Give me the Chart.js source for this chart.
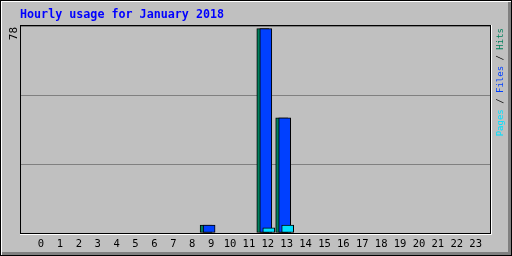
<!DOCTYPE html>
<html lang="en">
<head>
    <meta charset="UTF-8">
    <title>Hourly usage for January 2018</title>
    <script src="https://cdn.jsdelivr.net/npm/chart.js"></script>
    <style>
        html, body {
            margin: 0;
            padding: 0;
            background: #c0c0c0;
        }
        #wrap {
            width: 512px;
            height: 256px;
        }
    </style>
</head>
<body>
    <div id="wrap"><canvas id="hourlyChart" width="512" height="256"></canvas></div>

    <script>
        const chartTitle = 'Hourly usage for January 2018';
        const hourLabels = ['0', '1', '2', '3', '4', '5', '6', '7', '8', '9', '10', '11',
                            '12', '13', '14', '15', '16', '17', '18', '19', '20', '21', '22', '23'];
        const hits  = [0, 0, 0, 0, 0, 0, 0, 0, 0, 3, 0, 0, 78, 44, 0, 0, 0, 0, 0, 0, 0, 0, 0, 0];
        const files = [0, 0, 0, 0, 0, 0, 0, 0, 0, 3, 0, 0, 78, 44, 0, 0, 0, 0, 0, 0, 0, 0, 0, 0];
        const pages = [0, 0, 0, 0, 0, 0, 0, 0, 0, 0, 0, 0, 2, 3, 0, 0, 0, 0, 0, 0, 0, 0, 0, 0];

        const COLOR_HITS = '#00805c';
        const COLOR_FILES = '#0040ff';
        const COLOR_PAGES = '#00e0ff';
        const MONO = '"DejaVu Sans Mono", monospace';

        const maxHits = Math.max(...hits);
        const yTop = 79;

        function points(values) {
            return values.map((v, i) => ({ x: i, y: v }));
        }

        // shifts each dataset sideways by a few pixels, webalizer style overlap
        const shiftPlugin = {
            id: 'shift',
            beforeDatasetDraw(chart, args) {
                const ds = chart.data.datasets[args.index];
                chart.ctx.save();
                chart.ctx.translate(ds.shift || 0, 0);
            },
            afterDatasetDraw(chart) {
                chart.ctx.restore();
            }
        };

        const framePlugin = {
            id: 'frame',
            beforeDraw(chart) {
                const ctx = chart.ctx;
                const w = chart.width, h = chart.height;
                ctx.save();
                ctx.fillStyle = '#c0c0c0';
                ctx.fillRect(0, 0, w, h);
                // dark shadow bottom / right
                ctx.fillStyle = '#808080';
                ctx.fillRect(w - 4, 1, 3, h - 2);
                ctx.fillRect(1, h - 4, w - 2, 3);
                // highlight top / left
                ctx.fillStyle = '#ffffff';
                ctx.fillRect(1, 1, w - 2, 1);
                ctx.fillRect(1, 1, 1, h - 2);
                // outer black line
                ctx.strokeStyle = '#000000';
                ctx.lineWidth = 1;
                ctx.strokeRect(0.5, 0.5, w - 1, h - 1);
                ctx.restore();
            },
            afterDraw(chart) {
                const ctx = chart.ctx;
                const a = chart.chartArea;
                ctx.save();
                ctx.lineWidth = 1;
                ctx.strokeStyle = '#ffffff';
                ctx.beginPath();
                ctx.moveTo(a.left - 1, a.bottom + 1.5);
                ctx.lineTo(a.right + 1.5, a.bottom + 1.5);
                ctx.lineTo(a.right + 1.5, a.top - 1);
                ctx.stroke();
                ctx.strokeStyle = '#000000';
                ctx.strokeRect(a.left - 0.5, a.top - 0.5, a.right - a.left + 1, a.bottom - a.top + 1);

                // title
                ctx.fillStyle = '#0000ff';
                ctx.font = 'bold 11.7px ' + MONO;
                ctx.textAlign = 'left';
                ctx.textBaseline = 'middle';
                ctx.fillText(chartTitle, 20, 15);

                // max value label, rotated
                ctx.save();
                ctx.translate(14, 27);
                ctx.rotate(-Math.PI / 2);
                ctx.fillStyle = '#000000';
                ctx.font = '11px ' + MONO;
                ctx.textAlign = 'right';
                ctx.textBaseline = 'middle';
                ctx.fillText(String(maxHits), 0, 0);
                ctx.restore();

                // vertical legend on the right
                const parts = [
                    ['Pages', COLOR_PAGES],
                    [' / ', '#000000'],
                    ['Files', COLOR_FILES],
                    [' / ', '#000000'],
                    ['Hits', COLOR_HITS]
                ];
                ctx.font = '9px ' + MONO;
                const total = parts.reduce((s, p) => s + ctx.measureText(p[0]).width, 0);
                ctx.save();
                ctx.translate(501, 28 + total);
                ctx.rotate(-Math.PI / 2);
                ctx.textAlign = 'left';
                ctx.textBaseline = 'middle';
                let x = 0;
                parts.forEach(p => {
                    ctx.fillStyle = p[1];
                    ctx.fillText(p[0], x, 0);
                    x += ctx.measureText(p[0]).width;
                });
                ctx.restore();
                ctx.restore();
            }
        };

        new Chart(document.getElementById('hourlyChart'), {
            type: 'bar',
            data: {
                datasets: [
                    { label: 'Hits', data: points(hits), backgroundColor: COLOR_HITS, shift: -5, order: 3 },
                    { label: 'Files', data: points(files), backgroundColor: COLOR_FILES, shift: -2, order: 2 },
                    { label: 'Pages', data: points(pages), backgroundColor: COLOR_PAGES, shift: 1, order: 1 }
                ]
            },
            options: {
                responsive: false,
                animation: false,
                events: [],
                layout: {
                    padding: { left: 21, right: 22, top: 26, bottom: 0 }
                },
                datasets: {
                    bar: {
                        grouped: false,
                        barThickness: 12,
                        borderWidth: 1,
                        borderColor: '#000000',
                        borderSkipped: false
                    }
                },
                plugins: {
                    legend: { display: false },
                    title: { display: false },
                    tooltip: { enabled: false }
                },
                scales: {
                    x: {
                        type: 'linear',
                        offset: false,
                        min: -1.06,
                        max: 23.76,
                        grid: { display: false, drawTicks: false },
                        border: { display: false },
                        afterBuildTicks(scale) {
                            scale.ticks = hourLabels.map((_, i) => ({ value: i }));
                        },
                        afterFit(scale) {
                            scale.height = 23;
                        },
                        ticks: {
                            autoSkip: false,
                            maxRotation: 0,
                            padding: 5,
                            color: '#000000',
                            font: { family: MONO, size: 10.5 },
                            callback: (value) => hourLabels[value]
                        }
                    },
                    y: {
                        min: 0,
                        max: yTop,
                        grid: { color: '#808080', lineWidth: 1, drawTicks: false },
                        border: { display: false },
                        afterBuildTicks(scale) {
                            scale.ticks = [0, 1, 2, 3].map(k => ({ value: yTop * k / 3 }));
                        },
                        afterFit(scale) {
                            scale.width = 0;
                        },
                        ticks: { display: false }
                    }
                }
            },
            plugins: [shiftPlugin, framePlugin]
        });
    </script>
</body>
</html>
